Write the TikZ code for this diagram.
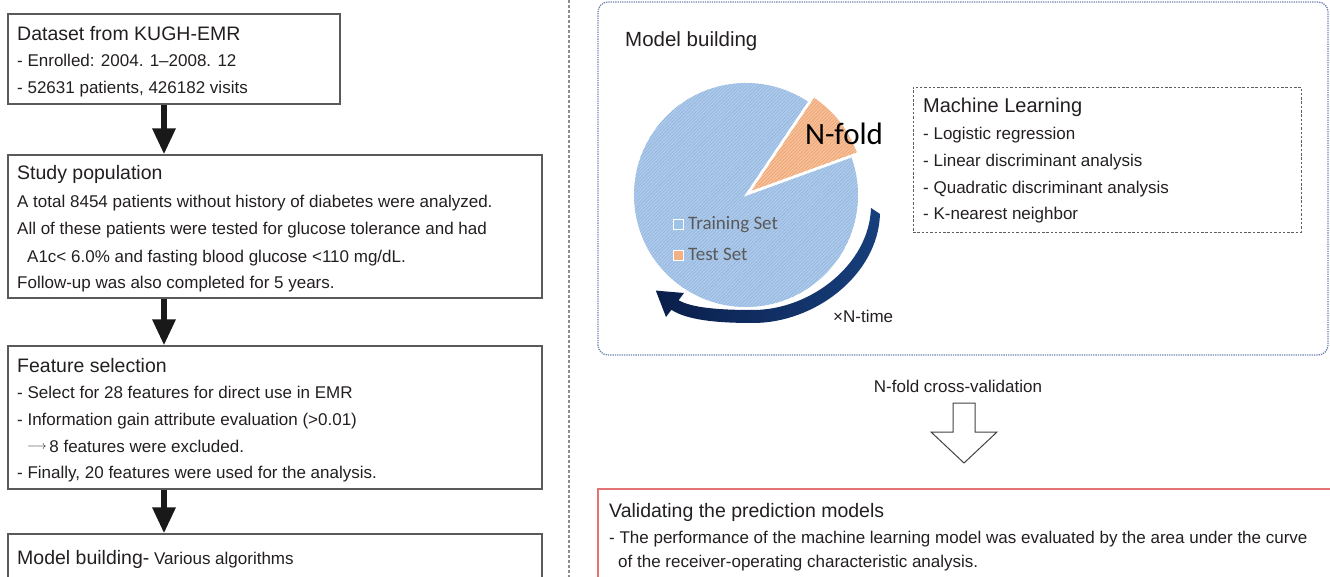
\documentclass[tikz,border=0pt]{standalone}
\usepackage{fontspec}
\setmainfont{Liberation Sans}
\newfontfamily\legendfont{Carlito}
\usetikzlibrary{calc,arrows.meta,patterns.meta}

\definecolor{ink}{HTML}{231F20}
\definecolor{boxline}{HTML}{5A5A5A}
\definecolor{divider}{HTML}{8C8C8C}
\definecolor{frameblue}{HTML}{6F82B0}
\definecolor{mlline}{HTML}{5F5F5F}
\definecolor{valred}{HTML}{E57373}
\definecolor{pieblue}{HTML}{AECAEA}
\definecolor{piebluehatch}{HTML}{8FB3DE}
\definecolor{pieorange}{HTML}{F6C09A}
\definecolor{pieorangehatch}{HTML}{EE9F68}
\definecolor{legblue}{HTML}{9DC3E6}
\definecolor{legorange}{HTML}{F4B183}
\definecolor{leggray}{HTML}{595959}
\definecolor{navydark}{HTML}{0A1E4A}
\definecolor{navylight}{HTML}{173F7C}

\begin{document}
\begin{tikzpicture}[x=1pt,y=-1pt,
  title/.style={font=\fontsize{19.5}{24}\selectfont, text=ink, anchor=base west, inner sep=0pt},
  body/.style={font=\fontsize{17}{22}\selectfont, text=ink, anchor=base west, inner sep=0pt},
  flowbox/.style={draw=boxline, line width=1.2pt, inner sep=0pt},
  blkarrow/.style={draw=black!90, line width=6pt, -{Triangle[length=26pt,width=22pt]}},
  legtext/.style={font=\legendfont\fontsize{19}{22}\selectfont, text=leggray, anchor=base west, inner sep=0pt},
  legsq/.style={draw=white, line width=0.8pt, minimum size=10pt, inner sep=0pt}
]
\useasboundingbox (0,0) rectangle (1330,577);
\clip (0,0) rectangle (1330,577);

% ---------------- left column: workflow ----------------
\node[flowbox, minimum width=332pt, minimum height=90pt]  (b1) at (174,59) {};
\node[flowbox, minimum width=534pt, minimum height=143pt] (b2) at (275,226.5) {};
\node[flowbox, minimum width=534pt, minimum height=143pt] (b3) at (275,417.5) {};
\node[flowbox, minimum width=534pt, minimum height=70pt]  (b4) at (275,569) {};

\node[title] (b1t)  at (17,40.7) {Dataset from KUGH-EMR};
\node[body]  (b1l1) at (17,67)   {- Enrolled: 2004. 1–2008. 12};
\node[body]  (b1l2) at (17,94)   {- 52631 patients, 426182 visits};

\node[title] (b2t)  at (17,180) {Study population};
\node[body]  (b2l1) at (17,208) {A total 8454 patients without history of diabetes were analyzed.};
\node[body]  (b2l2) at (17,235) {All of these patients were tested for glucose tolerance and had};
\node[body]  (b2l3) at (27,262) {A1c< 6.0\% and fasting blood glucose <110 mg/dL.};
\node[body]  (b2l4) at (17,288) {Follow-up was also completed for 5 years.};

\node[title] (b3t)  at (17,372) {Feature selection};
\node[body]  (b3l1) at (17,398) {- Select for 28 features for direct use in EMR};
\node[body]  (b3l2) at (17,425) {- Information gain attribute evaluation (>0.01)};
\node[body]  (b3l3) at (27,452) {\raisebox{2.6pt}{\fontsize{12}{12}\selectfont$\longrightarrow$}\,8 features were excluded.};
\node[body]  (b3l4) at (17,478) {- Finally, 20 features were used for the analysis.};

\node[title] (b4t) at (17,564) {Model building-\fontsize{17}{22}\selectfont{} Various algorithms};

\coordinate (ax) at (164,0);
\draw[blkarrow] (b1.south -| ax) -- (b2.north -| ax);
\draw[blkarrow] (b2.south -| ax) -- (b3.north -| ax);
\draw[blkarrow] (b3.south -| ax) -- (b4.north -| ax);

% ---------------- separator ----------------
\coordinate (dvtop) at (569,0);
\coordinate (dvbot) at (569,577);
\draw[divider, line width=1.1pt, dash pattern=on 3pt off 2pt] (dvtop) -- (dvbot);

% ---------------- right column: model building frame ----------------
\node[draw=frameblue, line width=1.3pt, densely dotted, rounded corners=10pt,
      minimum width=730pt, minimum height=353pt, inner sep=0pt] (mb) at (963,178.5) {};
\node[title, font=\fontsize{20.5}{24}\selectfont] (mbt) at (625,47) {Model building};

% pie chart: training part and the exploded test fold
\coordinate (pc) at (746,195);
\fill[pieblue] (pc) -- ($(pc)+(-56:112)$) arc[start angle=-56, end angle=-380, radius=112] -- cycle;
\fill[pattern={Lines[angle=45,distance=2.4pt,line width=0.55pt]}, pattern color=piebluehatch]
  (pc) -- ($(pc)+(-56:112)$) arc[start angle=-56, end angle=-380, radius=112] -- cycle;
\draw[white, line width=1.6pt] ($(pc)+(-56:112)$) -- (pc) -- ($(pc)+(-20:112)$);
\coordinate (fc) at ($(pc)+(-38:7)$);
\fill[pieorange] (fc) -- ++(-20:112) arc[start angle=-20, end angle=-56, radius=112] -- cycle;
\fill[pattern={Lines[angle=45,distance=2.4pt,line width=0.55pt]}, pattern color=pieorangehatch]
  (fc) -- ++(-20:112) arc[start angle=-20, end angle=-56, radius=112] -- cycle;

\node[font=\legendfont\fontsize{31}{34}\selectfont, text=black, anchor=base west, inner sep=0pt] (nfold) at (805,145) {N-fold};

\node[legsq, fill=legblue]   (sqtr) at (678,224) {};
\node[legsq, fill=legorange] (sqte) at (678,255.5) {};
\node[legtext] (ltr) at (688,230) {Training Set};
\node[legtext] (lte) at (688,261) {Test Set};

% rotation arrow around the pie
\shade[left color=navydark, right color=navylight]
  (880,214) .. controls (878,275) and (815,323) .. (753,323)
  .. controls (716,323) and (687,320) .. (671.4,309.8)
  -- (666,317) -- (655.8,290.6) -- (684,293) -- (678.6,300.2)
  .. controls (692,308) and (720,310) .. (753,310)
  .. controls (810,310) and (869,265) .. (871,208) -- cycle;

\node[body] (ntime) at (833,323) {×N-time};

% machine learning box
\node[draw=mlline, line width=0.9pt, dash pattern=on 2.5pt off 1.8pt,
      minimum width=388pt, minimum height=145pt, inner sep=0pt] (ml) at (1107,159.5) {};
\node[title, font=\fontsize{20}{24}\selectfont] (mlt) at (923,113) {Machine Learning};
\node[body] (ml1) at (923,140)   {- Logistic regression};
\node[body] (ml2) at (923,166.7) {- Linear discriminant analysis};
\node[body] (ml3) at (923,193.3) {- Quadratic discriminant analysis};
\node[body] (ml4) at (923,220)   {- K-nearest neighbor};

% cross-validation step
\node[body, anchor=base] (cv) at (958,392) {N-fold cross-validation};
\draw[draw=ink!85, line width=1pt, fill=white]
  (953,403) -- (975,403) -- (975,432) -- (997,432) -- (964,463)
  -- (931,432) -- (953,432) -- cycle;

% validation box
\node[draw=valred, line width=1.2pt, minimum width=742pt, minimum height=131pt, inner sep=0pt] (val) at (969,554.5) {};
\node[title] (valt) at (609,517) {Validating the prediction models};
\node[body] (val1) at (609,543) {- The performance of the machine learning model was evaluated by the area under the curve};
\node[body] (val2) at (618,567) {of the receiver-operating characteristic analysis.};
\end{tikzpicture}
\end{document}
